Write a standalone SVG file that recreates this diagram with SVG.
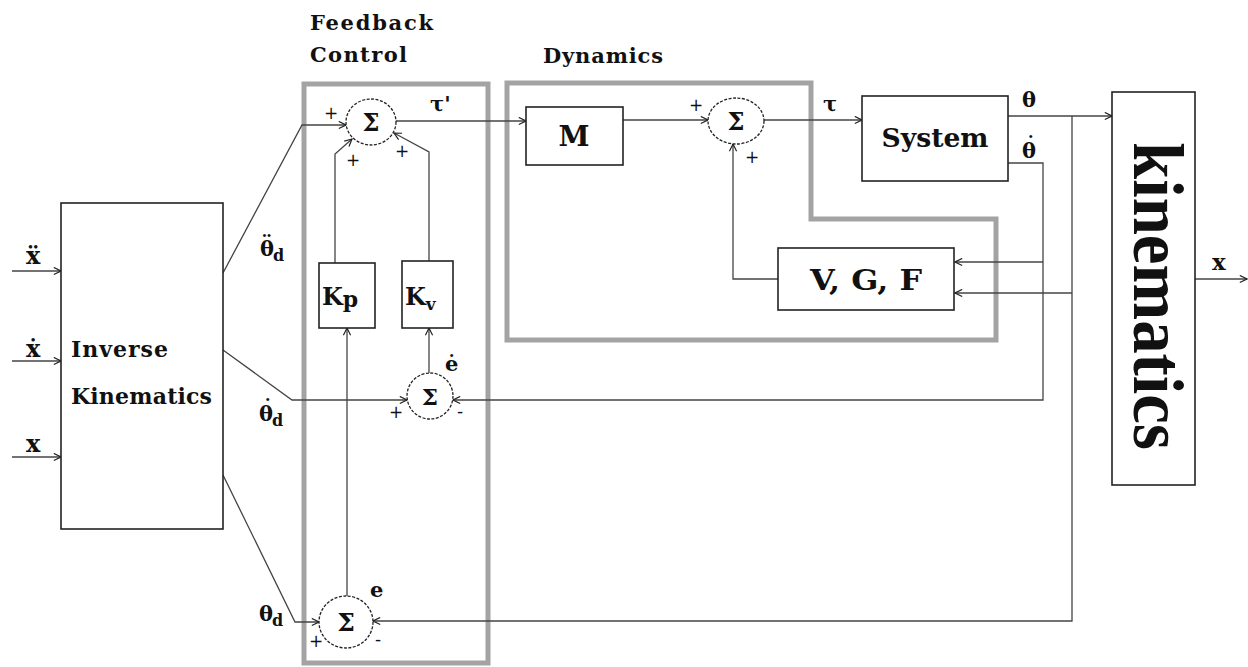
<svg xmlns="http://www.w3.org/2000/svg" width="1248" height="667" viewBox="0 0 1248 667">
<style>
.bg{fill:#ffffff}
.box{fill:#ffffff;stroke:#222;stroke-width:1.6}
.grp{fill:none;stroke:#a3a3a3;stroke-width:5}
.ln{fill:none;stroke:#444;stroke-width:1.3}
.sum{fill:#ffffff;stroke:#222;stroke-width:1.3;stroke-dasharray:3 1.5}
.t{font-family:"DejaVu Serif","Liberation Serif",serif;font-weight:bold;fill:#111}
.tk{font-family:"Liberation Serif","DejaVu Serif",serif;font-weight:bold;fill:#111}
.pm{font-family:"DejaVu Sans","Liberation Sans",sans-serif;font-size:17px;fill:#111}
</style>
<defs>
<marker id="arr" viewBox="0 0 10 10" refX="9" refY="5" markerWidth="9" markerHeight="9" markerUnits="userSpaceOnUse" orient="auto">
<path d="M1,1 L9,5 L1,9" fill="none" stroke="#222" stroke-width="1.3"/>
</marker>
</defs>
<rect class="bg" x="0" y="0" width="1248" height="667"/>

<g id="group-labels">
<text class="t" x="310" y="30" font-size="21" textLength="123" lengthAdjust="spacing">Feedback</text>
<text class="t" x="310" y="62" font-size="21" textLength="97" lengthAdjust="spacing">Control</text>
<text class="t" x="543" y="63" font-size="21" textLength="120" lengthAdjust="spacing">Dynamics</text>
</g>

<g id="feedback-control-frame"><rect class="grp" x="304" y="84" width="184" height="579"/></g>
<g id="dynamics-frame"><path class="grp" d="M507,83 H811 V219 H996 V340 H507 Z"/></g>

<g id="connectors">
<path class="ln" d="M12,271 H61" marker-end="url(#arr)"/>
<path class="ln" d="M12,361 H61" marker-end="url(#arr)"/>
<path class="ln" d="M12,457 H61" marker-end="url(#arr)"/>
<path class="ln" d="M223,273 L302,125 H346" marker-end="url(#arr)"/>
<path class="ln" d="M335,263 V154 L352,139" marker-end="url(#arr)"/>
<path class="ln" d="M429,261 V152 L394,133" marker-end="url(#arr)"/>
<path class="ln" d="M396,121 H526" marker-end="url(#arr)"/>
<path class="ln" d="M623,120 H708" marker-end="url(#arr)"/>
<path class="ln" d="M764,120 H862" marker-end="url(#arr)"/>
<path class="ln" d="M778,279 H733 V144" marker-end="url(#arr)"/>
<path class="ln" d="M1008,116 H1112" marker-end="url(#arr)"/>
<path class="ln" d="M1072,116 V621 H373" marker-end="url(#arr)"/>
<path class="ln" d="M1072,293 H955" marker-end="url(#arr)"/>
<path class="ln" d="M1008,163 H1043 V400 H453" marker-end="url(#arr)"/>
<path class="ln" d="M1043,262 H955" marker-end="url(#arr)"/>
<path class="ln" d="M223,350 L292,400 H407" marker-end="url(#arr)"/>
<path class="ln" d="M223,475 L295,622 H319" marker-end="url(#arr)"/>
<path class="ln" d="M347,596 V328" marker-end="url(#arr)"/>
<path class="ln" d="M429,373 V328" marker-end="url(#arr)"/>
<path class="ln" d="M1195,279 H1247" marker-end="url(#arr)"/>
</g>

<g id="inverse-kinematics">
<rect class="box" x="61" y="203" width="162" height="326"/>
<text class="t" x="71" y="357" font-size="22" textLength="97" lengthAdjust="spacing">Inverse</text>
<text class="t" x="71" y="404" font-size="22" textLength="141" lengthAdjust="spacing">Kinematics</text>
</g>

<g id="sum1">
<ellipse class="sum" cx="371" cy="122" rx="25" ry="23"/>
<text class="t" x="371" y="131" font-size="24" text-anchor="middle">Σ</text>
<text class="pm" x="331" y="119" text-anchor="middle">+</text>
<text class="pm" x="353" y="166" text-anchor="middle">+</text>
<text class="pm" x="402" y="157" text-anchor="middle">+</text>
</g>

<g id="sum2">
<ellipse class="sum" cx="430" cy="396" rx="23" ry="23"/>
<text class="t" x="430" y="405" font-size="23" text-anchor="middle">Σ</text>
<text class="pm" x="396" y="418" text-anchor="middle">+</text>
<text class="pm" x="460" y="417" text-anchor="middle">-</text>
</g>

<g id="sum3">
<ellipse class="sum" cx="346" cy="622" rx="27" ry="26"/>
<text class="t" x="346" y="631" font-size="25" text-anchor="middle">Σ</text>
<text class="pm" x="316" y="647" text-anchor="middle">+</text>
<text class="pm" x="378" y="645" text-anchor="middle">-</text>
</g>

<g id="kp"><rect class="box" x="319" y="263" width="56" height="65"/>
<text class="t" x="322" y="305" font-size="24">K<tspan dy="2" font-size="22">p</tspan></text></g>
<g id="kv"><rect class="box" x="402" y="261" width="51" height="67"/>
<text class="t" x="405" y="305" font-size="24">K<tspan dy="5" font-size="17">v</tspan></text></g>

<g id="m-block"><rect class="box" x="526" y="107" width="97" height="58"/>
<text class="t" x="574" y="146" font-size="28" text-anchor="middle">M</text></g>

<g id="sum-dyn">
<ellipse class="sum" cx="736" cy="121" rx="28" ry="23"/>
<text class="t" x="736" y="130" font-size="24" text-anchor="middle">Σ</text>
<text class="pm" x="696" y="111" text-anchor="middle">+</text>
<text class="pm" x="752" y="163" text-anchor="middle">+</text>
</g>

<g id="vgf"><rect class="box" x="778" y="248" width="176" height="62"/>
<text class="t" x="866" y="290" font-size="27" text-anchor="middle" textLength="112" lengthAdjust="spacingAndGlyphs">V, G, F</text></g>

<g id="system"><rect class="box" x="862" y="96" width="146" height="85"/>
<text class="t" x="935" y="147" font-size="26" text-anchor="middle" textLength="107" lengthAdjust="spacingAndGlyphs">System</text></g>

<g id="kinematics"><rect class="box" x="1112" y="92" width="83" height="393"/>
<text class="tk" transform="translate(1134,142) rotate(90)" font-size="72" textLength="308" lengthAdjust="spacingAndGlyphs">kinematics</text></g>

<g id="signal-labels">
<text class="t" x="26" y="264" font-size="24">ẍ</text>
<text class="t" x="26" y="357" font-size="24">ẋ</text>
<text class="t" x="26" y="452" font-size="24">x</text>
<text class="t" x="260" y="256" font-size="21">θ<tspan x="261.5" y="250">¨</tspan><tspan x="273" y="261" font-size="16">d</tspan></text>
<text class="t" x="259" y="421" font-size="21">θ<tspan x="262.5" y="414">˙</tspan><tspan x="272" y="426" font-size="16">d</tspan></text>
<text class="t" x="259" y="621" font-size="21">θ<tspan x="272" y="626" font-size="16">d</tspan></text>
<text class="t" x="430" y="111" font-size="21">τ'</text>
<text class="t" x="823" y="111" font-size="21">τ</text>
<text class="t" x="1022" y="107" font-size="21">θ</text>
<text class="t" x="1022" y="158" font-size="21">θ<tspan x="1025.5" y="151">˙</tspan></text>
<text class="t" x="445" y="371" font-size="21">ė</text>
<text class="t" x="370" y="597" font-size="21">e</text>
<text class="t" x="1212" y="270" font-size="23">x</text>
</g>
</svg>
